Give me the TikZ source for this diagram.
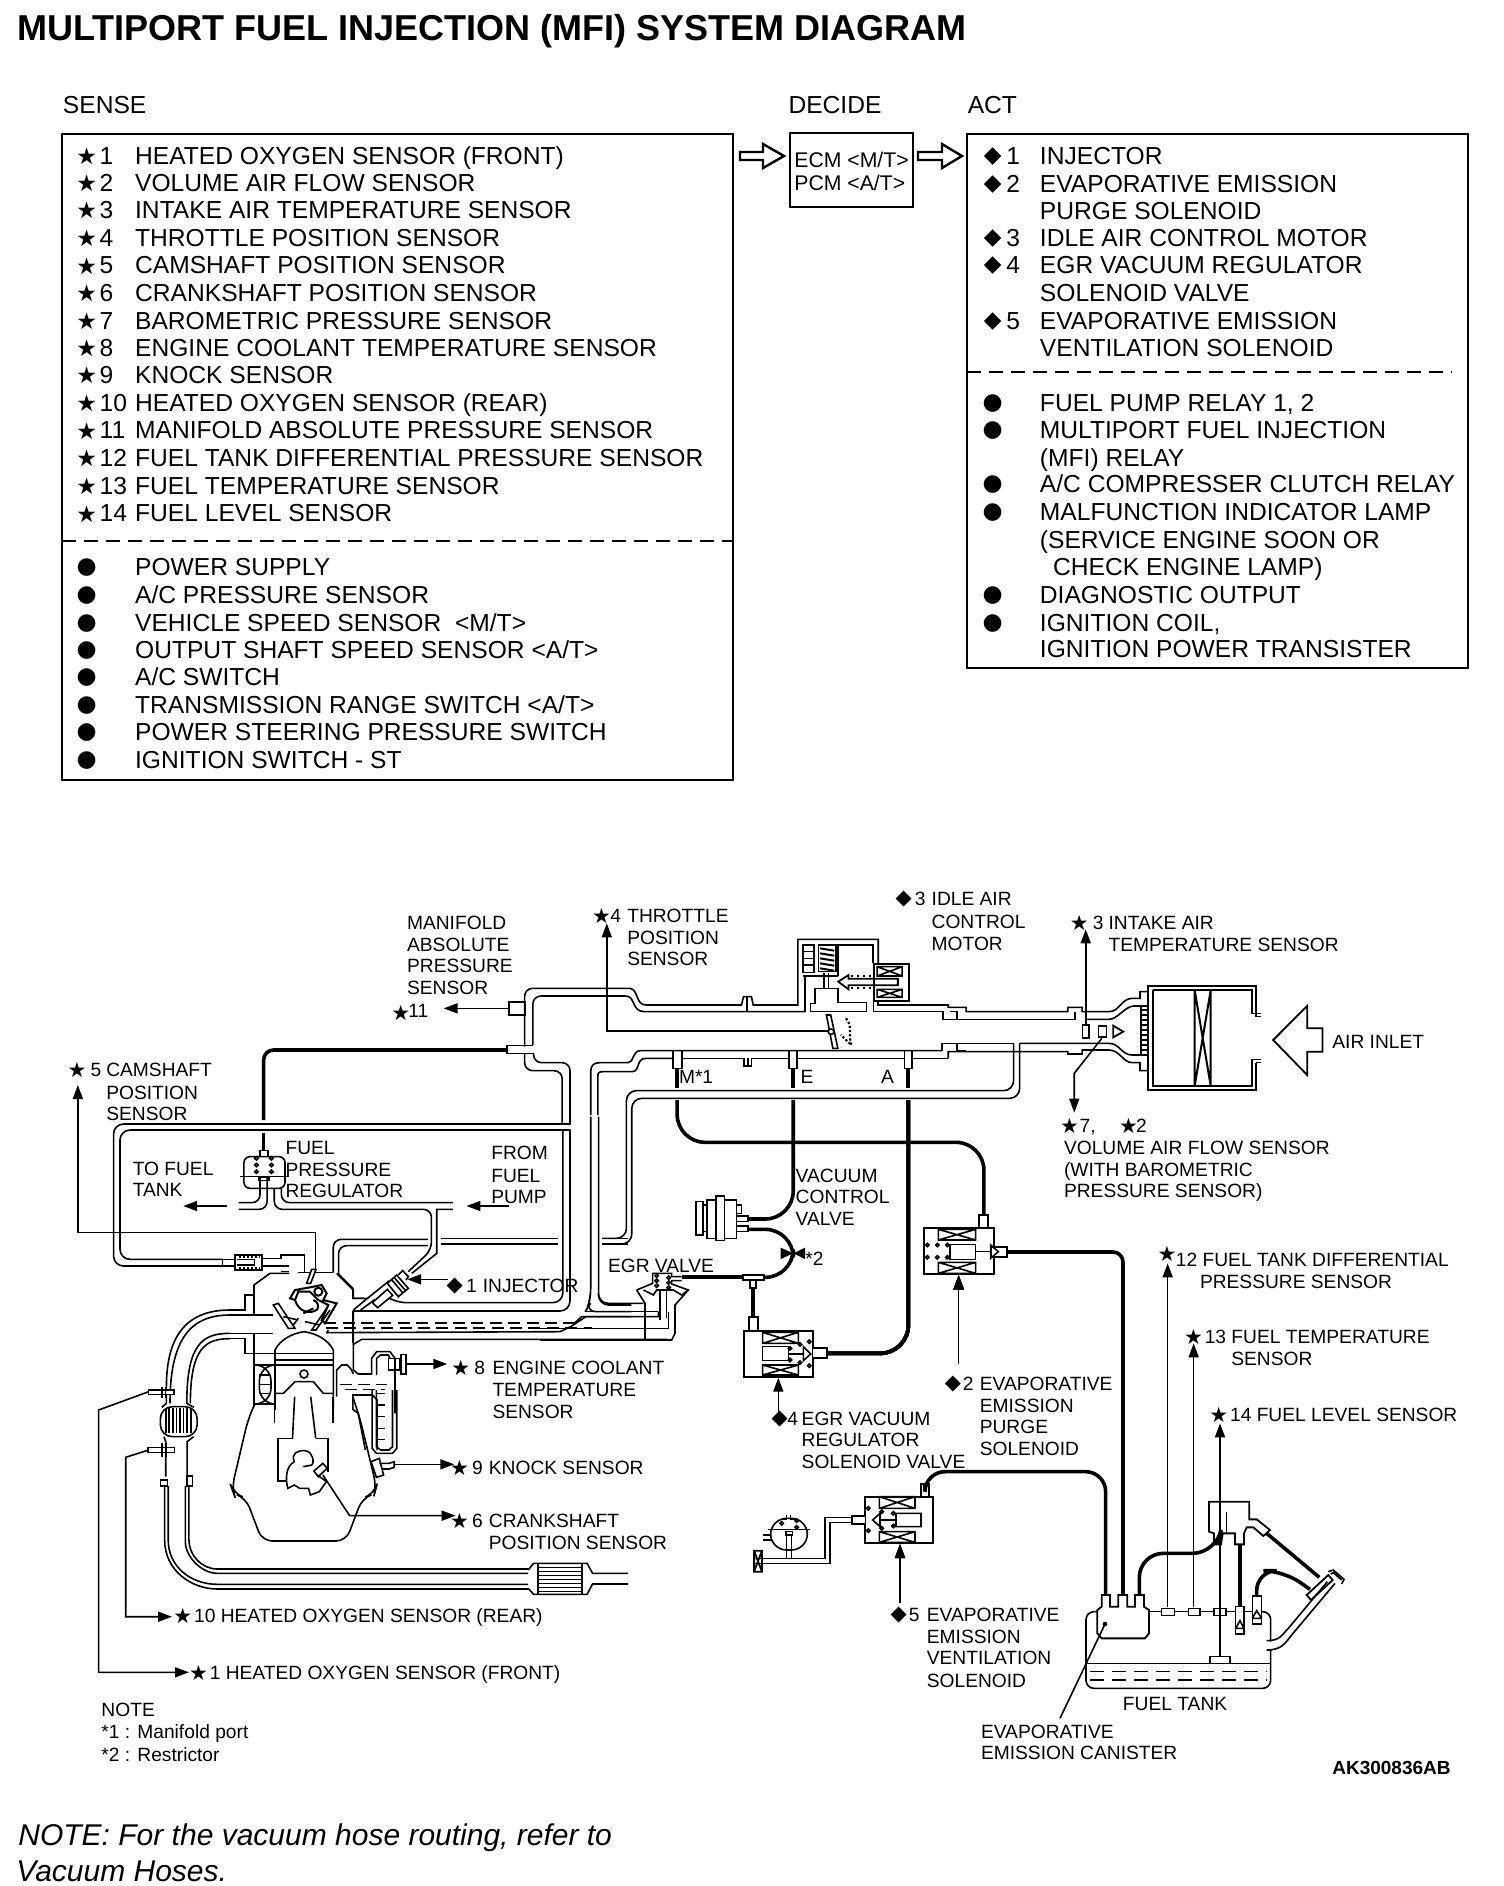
\documentclass[tikz,border=0pt]{standalone}
\usepackage{fontspec}
\setmainfont{Liberation Sans}
\newfontfamily\djv{DejaVu Sans}
\usetikzlibrary{arrows.meta}
\newcount\lbc
\tikzset{
 lb/.style={anchor=base west,inner sep=0pt,font=\fontsize{9.6}{11}\selectfont},
 big/.style={anchor=base west,inner sep=0pt,font=\fontsize{12.3}{14}\selectfont},
 sym/.style={anchor=center,inner sep=0pt,font=\djv\fontsize{10.5}{12}\selectfont},
 bigsym/.style={anchor=center,inner sep=0pt,font=\djv\fontsize{11.5}{13}\selectfont},
 thinl/.style={line width=.8pt,line join=miter},
 vac/.style={line width=1.8pt},
 boxl/.style={line width=1.2pt},
 sig/.style={line width=.8pt,-{Triangle[length=7pt,width=5pt]}},
 zA/.style={shift={(380,880)},xscale=.35714,yscale=.33333},
 zB/.style={shift={(900,880)},xscale=.35714,yscale=.33333},
 zC/.style={shift={(60,1050)},xscale=.35714,yscale=.33333},
 zD/.style={shift={(80,1400)},xscale=.35714,yscale=.33333},
 zE/.style={shift={(720,1200)},scale=.33333},
 zF/.style={shift={(1040,1450)},scale=.33333},
 zH/.style={shift={(560,1240)},scale=.33333},
 zI/.style={shift={(230,1250)},scale=.33333},
}
\newcommand\nx{\global\advance\lbc by 1 }
% diagram labels, given in the 1250-wide coordinates (x, line centre)
\newcommand\lab[3]{\nx\node[lb] (L\the\lbc) at ({#1*1.2032},{(#2+5.6)*1.2032}) {#3};}
\newcommand\stm[2]{\nx\node[sym] (L\the\lbc) at ({#1*1.2032},{#2*1.2032}) {★};}
\newcommand\dmd[2]{\nx\node[sym] (L\the\lbc) at ({#1*1.2032},{#2*1.2032}) {◆};}
\newcommand\Tx[3]{\nx\node[big] (L\the\lbc) at ({#1*1.2032},{(#2+6.6)*1.2032}) {#3};}
\newcommand\Sr[3]{\nx\node[bigsym] (L\the\lbc) at ({72*1.2032},{#1*1.2032}) {★};\Tx{82.5}{#1}{#2}\Tx{112}{#1}{#3}}
\newcommand\Sb[2]{\nx\node[bigsym] (L\the\lbc) at ({72*1.2032},{#1*1.2032}) {●};\Tx{112}{#1}{#2}}
\newcommand\Ar[3]{\nx\node[bigsym] (L\the\lbc) at ({825*1.2032},{#1*1.2032}) {◆};\Tx{836}{#1}{#2}\Tx{864}{#1}{#3}}
\newcommand\Ab[2]{\nx\node[bigsym] (L\the\lbc) at ({825*1.2032},{#1*1.2032}) {●};\Tx{864}{#1}{#2}}
\newcommand\xbox[4]{\draw (#1,#2) rectangle (#3,#4) (#1,#2)--(#3,#4) (#1,#4)--(#3,#2);}
\newcommand\cir[2]{\draw (#1,#2) circle[radius=5];}
\begin{document}
\begin{tikzpicture}[x=.5pt,y=-.5pt]
\useasboundingbox (0,0) rectangle (1504,1886);
\fill[white] (0,0) rectangle (1504,1886);
% ---------- header
\node[anchor=base west,inner sep=0pt,font=\bfseries\fontsize{18}{20}\selectfont] (title) at (17,40) {MULTIPORT FUEL INJECTION (MFI) SYSTEM DIAGRAM};
\Tx{52}{88}{SENSE}\Tx{655}{88}{DECIDE}\Tx{804}{88}{ACT}
\draw[boxl] (62,134) rectangle (733,780);
\draw[boxl,dash pattern=on 7pt off 4pt] (62,541) -- (733,541);
\draw[boxl] (790,133) rectangle (913,207);
\draw[boxl] (967,134) rectangle (1468,668);
\draw[boxl,dash pattern=on 7pt off 4pt] (967,372) -- (1452,372);
\node[anchor=base west,inner sep=0pt,font=\fontsize{10.6}{12}\selectfont] (ecm) at (794,167) {ECM <M/T>};
\node[anchor=base west,inner sep=0pt,font=\fontsize{10.6}{12}\selectfont] (pcm) at (794,190) {PCM <A/T>};
\draw[boxl] (740,152)--(763,152)--(763,144)--(784,156)--(763,168)--(763,160)--(740,160)--cycle;
\draw[boxl] (918,152)--(942,152)--(942,144)--(962,156)--(942,168)--(942,160)--(918,160)--cycle;
\Sr{130}{1}{HEATED OXYGEN SENSOR (FRONT)}
\Sr{152.5}{2}{VOLUME AIR FLOW SENSOR}
\Sr{175}{3}{INTAKE AIR TEMPERATURE SENSOR}
\Sr{198}{4}{THROTTLE POSITION SENSOR}
\Sr{221}{5}{CAMSHAFT POSITION SENSOR}
\Sr{244}{6}{CRANKSHAFT POSITION SENSOR}
\Sr{267}{7}{BAROMETRIC PRESSURE SENSOR}
\Sr{289.5}{8}{ENGINE COOLANT TEMPERATURE SENSOR}
\Sr{312}{9}{KNOCK SENSOR}
\Sr{335}{10}{HEATED OXYGEN SENSOR (REAR)}
\Sr{358}{11}{MANIFOLD ABSOLUTE PRESSURE SENSOR}
\Sr{381}{12}{FUEL TANK DIFFERENTIAL PRESSURE SENSOR}
\Sr{404}{13}{FUEL TEMPERATURE SENSOR}
\Sr{427}{14}{FUEL LEVEL SENSOR}
\Sb{472}{POWER SUPPLY}
\Sb{495}{A/C PRESSURE SENSOR}
\Sb{518}{VEHICLE SPEED SENSOR\ \ <M/T>}
\Sb{541}{OUTPUT SHAFT SPEED SENSOR <A/T>}
\Sb{563}{A/C SWITCH}
\Sb{586}{TRANSMISSION RANGE SWITCH <A/T>}
\Sb{609}{POWER STEERING PRESSURE SWITCH}
\Sb{632}{IGNITION SWITCH - ST}
\Ar{130}{1}{INJECTOR}
\Ar{153}{2}{EVAPORATIVE EMISSION}
\Tx{864}{175.5}{PURGE SOLENOID}
\Ar{198}{3}{IDLE AIR CONTROL MOTOR}
\Ar{221}{4}{EGR VACUUM REGULATOR}
\Tx{864}{244}{SOLENOID VALVE}
\Ar{267}{5}{EVAPORATIVE EMISSION}
\Tx{864}{290}{VENTILATION SOLENOID}
\Ab{335}{FUEL PUMP RELAY 1, 2}
\Ab{358}{MULTIPORT FUEL INJECTION}
\Tx{864}{381}{(MFI) RELAY}
\Ab{403}{A/C COMPRESSER CLUTCH RELAY}
\Ab{426}{MALFUNCTION INDICATOR LAMP}
\Tx{864}{449}{(SERVICE ENGINE SOON OR}
\Tx{875}{472}{CHECK ENGINE LAMP)}
\Ab{495}{DIAGNOSTIC OUTPUT}
\Ab{518}{IGNITION COIL,}
\Tx{864}{540}{IGNITION POWER TRANSISTER}
% ---------- diagram labels
\lab{338}{767}{MANIFOLD}\lab{338}{785}{ABSOLUTE}\lab{338}{803}{PRESSURE}\lab{338}{821}{SENSOR}
\stm{333}{842}\lab{339}{840}{11}
\stm{500}{761}\lab{507}{761}{4}\lab{521}{761}{THROTTLE}\lab{521}{779}{POSITION}\lab{521}{797}{SENSOR}
\dmd{751}{747}\lab{760}{747}{3}\lab{774}{747}{IDLE AIR}\lab{774}{766}{CONTROL}\lab{774}{784}{MOTOR}
\stm{897}{767}\lab{908}{767}{3}\lab{921}{767}{INTAKE AIR}\lab{921}{785}{TEMPERATURE SENSOR}
\lab{1107}{866}{AIR INLET}
\stm{889}{936}\lab{897}{936}{7,}\stm{938}{936}\lab{944}{936}{2}
\lab{884}{954}{VOLUME AIR FLOW SENSOR}\lab{884}{972}{(WITH BAROMETRIC}\lab{884}{990}{PRESSURE SENSOR)}
\stm{64}{889}\lab{75}{889}{5}\lab{88}{889}{CAMSHAFT}\lab{88}{908}{POSITION}\lab{88}{926}{SENSOR}
\lab{237}{954}{FUEL}\lab{237}{972}{PRESSURE}\lab{237}{990}{REGULATOR}
\lab{110}{971}{TO FUEL}\lab{110}{989}{TANK}
\lab{408}{958}{FROM}\lab{408}{977}{FUEL}\lab{408}{995}{PUMP}
\dmd{378}{1069}\lab{387}{1069}{1}\lab{401}{1069}{INJECTOR}
\lab{505}{1052}{EGR VALVE}
\lab{661}{977}{VACUUM}\lab{661}{995}{CONTROL}\lab{661}{1013}{VALVE}
\lab{669}{1046}{*2}
\lab{564}{895}{M*1}\lab{665}{895}{E}\lab{732}{895}{A}
\stm{970}{1042}\lab{977}{1047}{12 FUEL TANK DIFFERENTIAL}\lab{997}{1065}{PRESSURE SENSOR}
\stm{992}{1111}\lab{1001}{1111}{13 FUEL TEMPERATURE}\lab{1023}{1129}{SENSOR}
\stm{1013}{1176}\lab{1022}{1176}{14 FUEL LEVEL SENSOR}
\stm{383}{1137}\lab{394}{1137}{8}\lab{409}{1137}{ENGINE COOLANT}\lab{409}{1155}{TEMPERATURE}\lab{409}{1173}{SENSOR}
\dmd{792}{1150}\lab{800}{1150}{2}\lab{814}{1150}{EVAPORATIVE}\lab{814}{1168}{EMISSION}\lab{814}{1186}{PURGE}\lab{814}{1204}{SOLENOID}
\dmd{648}{1179}\lab{654}{1179}{4}\lab{666}{1179}{EGR VACUUM}\lab{666}{1197}{REGULATOR}\lab{666}{1215}{SOLENOID VALVE}
\stm{382}{1220}\lab{392}{1220}{9}\lab{406}{1220}{KNOCK SENSOR}
\stm{382}{1264}\lab{392}{1264}{6}\lab{406}{1264}{CRANKSHAFT}\lab{406}{1282}{POSITION SENSOR}
\dmd{747}{1342}\lab{755}{1342}{5}\lab{770}{1342}{EVAPORATIVE}\lab{770}{1360}{EMISSION}\lab{770}{1378}{VENTILATION}\lab{770}{1397}{SOLENOID}
\stm{152}{1343}\lab{161}{1343}{10 HEATED OXYGEN SENSOR (REAR)}
\stm{165}{1390}\lab{174}{1390}{1 HEATED OXYGEN SENSOR (FRONT)}
\lab{84}{1421}{NOTE}\lab{84}{1439}{*1 : Manifold port}\lab{84}{1458}{*2 : Restrictor}
\lab{933}{1416}{FUEL TANK}\lab{815}{1439}{EVAPORATIVE}\lab{815}{1457}{EMISSION CANISTER}
\nx\node[anchor=base west,inner sep=0pt,font=\bfseries\fontsize{9.5}{11}\selectfont] (L\the\lbc) at ({1107*1.2032},{1475*1.2032}) {AK300836AB};
\node[anchor=base west,inner sep=0pt,font=\itshape\fontsize{15}{18}\selectfont] (n1) at (18,1845) {NOTE: For the vacuum hose routing, refer to};
\node[anchor=base west,inner sep=0pt,font=\itshape\fontsize{15}{18}\selectfont] (n2) at (16,1881) {Vacuum Hoses.};

% ---------- throttle / intake (frame A)
\begin{scope}[zA,thinl]
 \draw[rounded corners=4pt] (405,500)--(405,325)--(700,325);
 \draw (700,325)..controls(725,330)and(715,375)..(745,375)--(1012,375)--(1018,350)--(1040,350)--(1045,375)--(1170,375)--(1170,178)--(1395,178)--(1395,250);
 \draw (1028,350)--(1028,395);
 \draw[rounded corners=4pt] (428,495)--(428,348)--(690,348);
 \draw (690,348)..controls(715,350)and(705,395)..(740,395)--(1190,395)--(1190,288)--(1283,288);
 \draw (1283,288)--(1283,195)--(1380,195)--(1380,250);
 \draw (1190,288)--(1185,288);
 \draw (1185,195) rectangle (1215,278);
 \foreach \y in {215,235,255} \draw (1185,\y)--(1215,\y);
 \draw (1228,195) rectangle (1277,275);
 \foreach \y in {205,220,235,250,265} \draw[line width=1pt] (1232,\y)--(1272,\y+7);
 \draw[line width=.9pt] (1243,278)--(1243,325) (1256,278)--(1256,325);
 \draw (1205,395)--(1205,370)--(1218,370)--(1218,325)--(1283,325)--(1283,368)--(1362,368)--(1362,395)--cycle;
 \draw[line width=.9pt] (1283,305)--(1312,285)--(1312,296)--(1450,296)--(1450,316)--(1312,316)--(1312,328)--cycle;
 \draw[line width=.9pt,dotted] (1320,288)--(1380,288) (1320,325)--(1380,325);
 \draw[line width=1pt] (1382,252) rectangle (1480,362);
 \xbox{1392}{260}{1462}{288}
 \xbox{1392}{328}{1462}{352}
 \draw (1395,362)--(1395,375)--(1500,375);
 \draw (1382,362)--(1382,395)--(1500,395);
 % throttle plate
 \draw (1250,405)--(1262,405)--(1282,505)--(1268,505)--cycle;
 \draw[fill=white] (1263,455) circle[radius=8];
 \draw[line width=1.1pt,densely dotted] (1305,415)..controls(1325,440)and(1310,470)..(1320,495)--(1290,465);
 \draw[sig] (1255,453)--(635,453)--(635,130);
 % MAP
 \draw[line width=1pt] (360,365) rectangle (405,405);
 \draw[sig] (360,385)--(178,385);
 % port
 \draw (428,497)--(355,497)--(355,520)--(430,520);
 \draw[vac] (0,510)--(355,510);
 \draw[rounded corners=4pt] (405,520)--(405,572)--(510,572)--(510,732);
 \draw[rounded corners=4pt] (430,520)--(430,548)--(532,548)--(532,732);
 % lower pipe of manifold
 \draw (590,705)--(590,575)..controls(590,555)and(600,548)..(615,548)--(695,548)..controls(712,548)and(705,512)..(730,512)--(1574,512);
 \draw (610,705)--(610,590)..controls(610,578)and(612,575)..(625,575)--(705,575)..controls(730,575)and(715,535)..(745,535)--(820,535);
 \draw (820,512)--(820,565)--(845,565)--(845,512);
 \draw (845,535)--(1020,535)--(1020,558)--(1040,558)--(1040,535)--(1145,535);
 \draw (1030,558)--(1030,535);
 \draw (1145,512)--(1145,565)--(1167,565)--(1167,512);
 \draw (1167,535)--(1468,535);
 \draw (1468,512)--(1468,565)--(1490,565)--(1490,512);
 \draw (1490,535)--(1591,535);
 \draw[vac] (832,565)--(832,625) (1157,565)--(1157,625) (1478,565)--(1478,625);
 \draw[vac,rounded corners=14pt] (832,660)--(832,787)--(1691,787)--(1691,1005);
 \draw[vac,rounded corners=14pt] (1157,660)--(1157,1017)--(1030,1017);
 \draw[vac,rounded corners=14pt] (1030,1048)--(1157,1048)--(1157,1192)--(1075,1192);
 \draw[rounded corners=5pt] (1774,490)--(1774,632)--(690,632)--(690,1075)--(622,1075);
 \draw[rounded corners=5pt] (1791,490)--(1791,655)--(705,655)--(705,1092)--(622,1092);
 % VCV
 \draw (885,965) rectangle (905,1065) (915,960) rectangle (940,1075) (940,948) rectangle (965,1082) (965,960) rectangle (998,1075) (998,975) rectangle (1012,1000) (905,975)--(915,975) (905,1055)--(915,1055);
 \draw (998,1008) rectangle (1030,1025) (998,1038) rectangle (1030,1055);
 \fill (1122,1103)--(1157,1120)--(1122,1137)--cycle (1190,1103)--(1157,1120)--(1190,1137)--cycle;
\end{scope}
% ---------- air cleaner (frame B)
\begin{scope}[zB,thinl]
 \draw (20,375)--(135,375)--(135,382)--(185,382)--(185,395)--(470,395)--(470,382)--(510,382)--(510,395)--(585,395)..controls(615,395)and(620,355)..(650,355)--(672,355)--(672,335)--(695,335);
 \draw (20,395)--(120,395)--(120,418)--(490,418)--(490,395);
 \draw (160,418)--(160,395)--(140,395);
 \draw (520,418)--(585,418)..controls(610,418)and(630,378)..(655,378)--(695,378);
 \draw (118,512)--(118,490)--(318,490);
 \draw (335,490)--(585,490)..controls(615,490)and(620,525)..(650,525)--(695,525);
 \draw (135,535)--(135,515)--(180,515)--(470,515)--(470,522)--(510,522)--(510,510)--(585,510)..controls(615,510)and(625,548)..(650,548)--(672,548)--(672,572)--(695,572);
 \draw (160,490)--(160,512)--(185,512);
 \draw[line width=1pt] (998,410)--(998,318)--(695,318)--(695,630)--(998,630)--(998,548);
 \draw (708,330)--(985,330)--(985,400)--(1010,400) (998,410)--(1010,410);
 \draw (708,330)--(708,618)--(985,618)--(985,538)--(1010,538) (998,548)--(1010,548);
 \draw[line width=1pt] (825,330)--(825,618) (870,330)--(870,618) (825,330)--(870,618) (870,330)--(825,618);
 \foreach \y in {390,405,420,435,450,465,480,495,510} \draw (675,\y)--(695,\y);
 \draw (675,378)--(675,525);
 \draw[line width=.9pt] (1045,480)--(1140,378)--(1140,445)--(1183,445)--(1183,515)--(1140,515)--(1140,585)--cycle;
 \draw[line width=.9pt] (511,435) rectangle (530,475) (556,437) rectangle (578,472);
 \draw[line width=.9pt] (597,437)--(625,455)--(597,472)--cycle;
 \draw[sig] (520,435)--(520,148);
 \draw[sig] (565,475)--(488,580)--(488,698);
\end{scope}
% ---------- fuel / head (frame C)
\begin{scope}[zC,thinl]
 \draw[vac,rounded corners=5pt] (570,210)--(570,0)--(1255,0);
 \draw[vac] (570,250)--(570,300);
 \draw[rounded corners=5pt] (1430,222)--(150,222)--(150,648)--(455,648);
 \draw[rounded corners=5pt] (1430,240)--(168,240)--(168,628)--(455,628);
 \draw[rounded corners=5pt] (1408,240)--(1408,758)--(940,758)--(922,745);
 \draw[rounded corners=5pt] (1428,240)--(1428,783)--(820,783);
 % cam sensor body
 \draw (455,628) rectangle (490,648);
 \draw (490,615) rectangle (565,660) (495,628)--(545,628)--(545,645)--(495,645);
 \draw[densely dotted,line width=1pt] (500,620)--(560,620) (500,654)--(560,654);
 \draw (565,625)--(618,625)--(618,615)--(685,615)--(685,665);
 \draw (565,648)--(640,648);
 \draw (618,665)--(640,665);
 \draw[rounded corners=4pt] (765,668)--(765,568)--(1030,568);
 \draw[rounded corners=4pt] (780,672)--(780,587)--(1030,587);
 \draw (1068,565)--(1395,565) (1068,582)--(1395,582);
 \draw (1518,565)--(1590,565) (1518,582)--(1590,582);
 \draw (780,672)--(820,715)--(820,745)--(860,745);
 \draw (665,668)--(765,668);
 % regulator
 \draw[fill=white,rounded corners=3pt] (515,320) rectangle (630,415);
 \draw (505,380)--(640,380);
 \draw (560,320)--(560,302)--(582,302)--(582,320);
 \foreach \a/\b in {550/325,550/345,550/365,592/325,592/345,592/365} \draw (\a,\b) circle[radius=5];
 \draw[rounded corners=4pt] (560,382)--(560,458)--(500,458);
 \draw[rounded corners=4pt] (580,382)--(580,478)--(500,478);
 \draw (556,382) rectangle (585,392);
 \draw[rounded corners=4pt] (600,415)--(600,478)--(1040,478)--(1040,600)--(975,665);
 \draw[rounded corners=4pt] (620,415)--(620,458)--(1100,458);
 \draw (1100,478)--(1055,478)--(1055,610)--(985,670);
 \draw[sig] (468,468)--(345,468);
 \draw[sig] (1258,468)--(1138,468);
 \draw[sig] (715,660)--(715,547)--(50,547)--(50,105);
 \draw[sig] (1085,688)--(972,688);
 % manifold walls right
 \draw[rounded corners=5pt] (1486,200)--(1486,745)--(1472,785)--(1600,785);
 \draw[rounded corners=5pt] (1508,200)--(1508,765)--(1600,765);
 \draw (745,848)--(1400,845)--(1430,830)--(1472,800)--(1600,800);
 \draw[line width=1pt,dash pattern=on 6pt off 3.2pt] (740,818)--(1445,818) (745,833)--(1490,833);
 \draw (820,884)--(845,868)--(1700,868);
 \draw (820,880)--(820,783);
 % exhaust manifold
 \draw (476,780)..controls(360,780)and(298,850)..(298,1010)--(298,1060)--(285,1072);
 \draw (476,795)..controls(370,795)and(308,860)..(308,1060);
 \draw (476,850)..controls(400,850)and(355,880)..(355,1060)--(375,1072);
 \draw (476,866)..controls(410,866)and(365,890)..(365,1060);
 \draw[fill=white] (248,1020) rectangle (320,1033);
 \draw (285,1010)--(285,1045) (295,1010)--(295,1045);
 \draw (888,1200)--(888,1050)--(875,1035)--(820,1035)--(820,1078)--(835,1090)--(855,1200);
\end{scope}
\draw[sig] (148.6,1391.7)--(98.6,1410)--(98.6,1672.3)--(189,1672.3);
\draw[sig] (148.6,1450)--(125.7,1457.3)--(125.7,1616.7)--(172,1616.7);
% ---------- head detail (frame I)
\begin{scope}[zI,thinl]
 \draw (0,180)--(45,180)--(45,135)--(72,135)--(72,105)--(120,70)--(178,70);
 \draw (0,195)--(130,195);
 \draw (0,250)--(130,250);
 \draw (0,265)--(45,265)--(45,310)--(310,310);
 \draw (72,135)--(72,195) (72,250)--(72,470);
 \draw (320,70)--(370,120)--(370,145)--(402,145);
 \draw (370,180)--(370,360)--(385,372)--(425,372)--(425,325)--(440,305)--(480,305)--(495,325)--(495,490);
 \draw (440,375)--(440,325)--(452,315)--(475,315)--(480,325);
 \draw (370,180)--(400,155)--(478,92);
 \draw (392,180)--(435,148);
 \draw[fill=white] (427,158)--(472,118)--(488,136)--(443,173)--cycle;
 \draw[fill=white] (472,100)--(500,75)--(535,115)--(505,140)--cycle;
 \draw (484,88)--(518,128) (492,82)--(527,122);
 \draw (505,75)--(518,62)--(535,80)--(528,90);
 % rocker / cam
 \draw[line width=1pt] (180,145)--(195,120)--(240,112)--(275,105)--(290,130)--(280,150)--(320,160)--(285,220)--(275,210)--(295,165)--(265,150)--(240,125)--(205,125)--(195,150)--cycle;
 \draw[line width=1pt] (265,125) circle[radius=12];
 \draw[line width=1pt] (195,150)..controls(205,185)and(240,195)..(262,178)..controls(268,165)and(262,155)..(250,150);
 \draw[line width=1pt] (220,190)--(250,175);
 % valves and sensor bar
 \draw[fill=white] (245,58)--(258,58)--(242,100)--(230,100)--cycle;
 \draw (130,165)--(175,235)--(195,235)--(145,160)--cycle;
 \draw (300,180)--(258,240)--(245,240)--(290,175);
 \draw (160,200)--(205,210) (205,205)--(190,225) (225,215)--(270,225);
 % cylinder
 \draw (135,480)--(135,300)..controls(150,270)and(185,250)..(222,245)..controls(260,250)and(295,270)..(310,300)--(310,480);
 \draw (135,330)--(310,330) (135,345)--(310,345);
 \draw (222,372) circle[radius=12];
 \draw (135,430)--(160,430)--(195,395)--(250,395)--(280,430)--(310,430);
 \draw[rounded corners=8pt] (88,345) rectangle (123,462);
 \foreach \y in {375,403,430} \draw (88,\y)--(120,\y);
 \draw (320,440)--(320,360)--(335,345)--(352,345)--(365,360)--(370,372);
 \draw[dash pattern=on 6pt off 3pt] (330,403)--(470,403) (345,418)--(465,418);
 \draw (290,250)--(295,240);
 % ECT sensor
 \draw (475,325) rectangle (510,360);
 \draw (513,313) rectangle (528,372);
 \draw[sig] (528,342)--(652,342);
\end{scope}
% ---------- lower engine (frame D)
\begin{scope}[zD,thinl]
 \draw[rounded corners=5pt] (764,-9)--(785,60)--(830,260)--(825,280)--(790,295)--(745,423)--(510,423)--(465,295)--(430,280)--(425,265)--(470,60)--(490,10);
 \draw (545,-10)--(545,70) (708,-10)--(708,70);
 \draw (818,-30)--(818,145)--(830,160)--(875,160)--(887,145)--(887,-30);
 \draw (830,-30)--(830,140)--(842,150)--(865,150)--(875,140)--(875,-30);
 \foreach \y in {-20,15,50,85,118} \draw (830,\y)--(855,\y);
 \draw (555,115)--(595,115) (660,115)--(695,115)--(695,215) (555,115)--(555,243)--(580,243);
 \draw (601,-10)--(595,115) (646,-10)--(660,115);
 \draw (600,185)..controls(575,200)and(575,240)..(582,265)--(600,255)--(615,265)--(640,265)--(645,285)--(670,275)--(690,245)--(665,225);
 \draw (600,185)..controls(590,160)and(610,150)..(630,152)..controls(655,155)and(655,190)..(650,195);
 \draw (650,195)--(625,200) (655,213)--(680,190)--(692,205)--(667,230)--cycle;
 \draw[sig] (680,225)--(755,347)--(1052,347);
 \draw (815,185)--(838,175)--(850,225)--(830,232)--cycle;
 \draw (838,190)--(865,190)--(880,185)--(880,202)--(865,207)--(845,207);
 \draw[sig] (880,193)--(1048,193);
 % silencer
 \draw[rounded corners=6pt] (225,20) rectangle (328,110);
 \foreach \x in {240,250,260,270,280,290,300,310} \draw (\x,25)--(\x,100);
 \draw (235,110)--(240,125)--(240,230) (318,110)--(300,125)--(300,230);
 \draw (190,142) rectangle (265,158);
 \draw (230,130)--(230,170) (240,130)--(240,170);
 \draw (225,240) rectangle (245,258) (300,228) rectangle (315,258);
 \draw (237,258)--(237,420)..controls(237,510)and(310,567)..(385,567)--(1255,567);
 \draw (247,258)--(247,420)..controls(247,500)and(310,553)..(385,553)--(1255,553);
 \draw (295,258)--(295,425)..controls(295,470)and(340,520)..(385,520)--(1255,520);
 \draw (305,258)--(305,420)..controls(305,465)and(340,507)..(385,507)--(1255,507);
 \draw (1255,510)--(1270,490)--(1420,490)--(1435,520)--(1535,520);
 \draw (1255,565)--(1270,583)--(1420,583)--(1435,552)--(1535,552);
 \draw (1282,490) rectangle (1405,583);
 \foreach \y in {502,514,526,538,550,562,574} \draw (1282,\y)--(1405,\y);
\end{scope}
% ---------- EGR valve (frame H)
\begin{scope}[zH,thinl]
 \draw (230,150)--(278,130)--(278,100)--(335,100)--(335,110)--(365,110);
 \draw (365,122)--(335,122)--(335,132)--(385,150)--(345,195)--(345,280)--(335,300)--(-60,300);
 \draw (230,150)--(255,190);
 \draw (250,150)--(280,165)--(290,150)--(340,150)--(365,165)--(385,150);
 \draw (300,150)--(300,240) (320,150)--(320,235);
 \draw[line width=1.1pt] (255,190)--(255,297);
 \foreach \a/\b in {290/107,290/122,290/137,326/113,326/128,326/143} \draw (\a,\b) circle[radius=5];
 \draw (75,215)--(295,215);
 \draw (92,190)--(75,215);
 \draw[rounded corners=5pt] (115,165)--(115,190)--(250,190);
 \draw (45,248)--(65,230)--(295,230)--(295,215);
 \draw (-60,265)--(325,265)--(325,215);
\end{scope}
\draw[vac] (682,1277)--(743,1277);
% ---------- solenoids (frame E)
\begin{scope}[zE,thinl]
 \draw[line width=.9pt] (68,225) rectangle (133,240);
 \draw[line width=.9pt] (90,240)--(90,265)--(108,265)--(108,240);
 \draw[vac] (99,265)--(99,352);
 % sol 4
 \draw[line width=.9pt] (88,392)--(88,352)--(113,352)--(113,392);
 \draw[line width=.9pt] (73,392) rectangle (278,530);
 \xbox{128}{397}{235}{430}
 \xbox{128}{495}{235}{525}
 \draw (128,440) rectangle (205,482);
 \draw (205,462)--(250,462) (250,440)--(272,462)--(250,482)--cycle;
 \draw[line width=.9pt,fill=white] (278,445)--(320,445)--(320,475)--(278,475);
 \foreach \a/\b in {240/433,268/425,210/445,210/480,240/488,268/497} \cir\a\b
 \draw[vac,rounded corners=14pt] (320,460)--(565,460)--(565,-300);
 \draw[sig] (175,635)--(175,533);
 % sol 2
 \draw[line width=.9pt] (778,85)--(778,45)--(805,45)--(805,85);
 \draw[line width=.9pt] (613,85) rectangle (822,223);
 \xbox{655}{88}{767}{120}
 \xbox{655}{187}{767}{220}
 \draw (690,133) rectangle (767,178) (767,155)--(812,155);
 \draw[fill=white,line width=.9pt] (812,140) rectangle (860,170);
 \draw (812,135)--(835,155)--(812,175)--cycle;
 \foreach \a/\b in {622/135,622/172,652/135,652/172,682/135,682/172} \cir\a\b
 \draw[sig] (716,492)--(716,226);
 % sol 5
 \draw[line width=.9pt] (603,890)--(603,852)--(628,852)--(628,890);
 \draw[line width=.9pt] (435,890) rectangle (640,1030);
 \xbox{478}{890}{585}{925}
 \xbox{478}{995}{585}{1027}
 \draw (528,940) rectangle (603,980) (528,960)--(480,960) (480,940)--(458,960)--(480,980)--cycle;
 \foreach \a/\b in {445/925,445/992,485/935,485/985,520/940,520/978} \cir\a\b
 \draw[line width=.9pt,fill=white] (435,948)--(395,948)--(395,972)--(435,972);
 \draw[vac,rounded corners=10pt] (615,852)--(615,815)--(1157,815)--(1157,1190);
 \draw (395,953)--(315,953)--(315,1075)--(105,1075);
 \draw (395,968)--(330,968)--(330,1090)--(105,1090);
 \draw[line width=.9pt] (102,1052) rectangle (126,1115) (102,1052)--(126,1115) (102,1115)--(126,1052);
 \draw[rounded corners=8pt] (152,955) rectangle (262,1050);
 \draw (145,988)--(270,988);
 \draw (130,1005)--(152,1005) (130,1020)--(152,1020);
 \draw (200,945)--(200,958)--(188,958) (212,945)--(212,958)--(225,958);
 \draw (198,995) rectangle (218,1005);
 \draw (200,1005)--(200,1075) (215,1005)--(215,1075);
 \foreach \a/\b in {185/970,230/962,230/982} \cir\a\b
 \draw[sig] (540,1210)--(540,1032);
\end{scope}
\draw[vac,rounded corners=5pt] (1006,1252)--(1123,1252)--(1123,1595);
% ---------- tank (frame F)
\begin{scope}[zF,thinl]
 \draw[sig] (383,470)--(383,-560);
 \draw[sig] (461,470)--(461,-320);
 \draw[sig] (540,620)--(540,-80);
 \draw[rounded corners=4pt] (172,485)--(138,485)--(138,715)--(692,715)--(692,600);
 \draw[rounded corners=4pt] (692,575)--(692,485)--(665,485);
 \draw (327,485)--(365,485) (403,485)--(445,485) (480,485)--(522,485) (558,485)--(587,485) (612,485)--(637,485);
 \draw (365,475) rectangle (403,497) (445,475) rectangle (480,497) (522,475) rectangle (558,497);
 \draw (138,640)--(692,640);
 \draw[dash pattern=on 7pt off 4pt] (150,665)--(680,665) (150,690)--(680,690);
 \draw (510,640)--(510,620)--(570,620)--(570,640);
 \draw[line width=.9pt,fill=white] (185,470)--(185,435)--(210,435)--(210,470)--(235,470)--(235,435)--(262,435)--(262,470)--(285,470)--(285,435)--(312,435)--(312,470)--(327,480)--(327,550)--(315,565)--(185,565)--(172,550)--(172,480)--cycle;
 \draw[vac] (249,435)--(249,0);
 \draw[vac,rounded corners=12pt] (298,435)--(298,310)--(530,310)--(535,283);
 \fill (195,522) circle[radius=7];
 \draw (195,522)--(60,805);
 % vent box
 \draw[line width=.9pt] (507,155)--(628,155)--(628,208)--(650,208)--(690,240)--(670,258)--(640,232)--(620,232)--(612,250)--(612,283)--(585,283)--(585,250)--(548,250)--(543,283)--(522,283)--(522,250)--(507,245)--cycle;
 \draw (560,185)--(560,250);
 \draw[vac] (600,283)--(600,470);
 \draw[fill=white] (587,470) rectangle (612,552);
 \draw (587,535)--(600,512)--(612,535) (587,535)--(612,535);
 \draw[fill=white] (637,438) rectangle (665,522);
 \draw (637,505)--(650,482)--(665,505) (637,505)--(665,505);
 \draw[vac,rounded corners=10pt] (650,438)--(650,362)--(730,362)--(810,418);
 \draw[vac] (680,250)--(838,382);
 \draw[line width=.9pt] (800,435)--(865,375)--(878,390)--(813,450)--cycle;
 \draw (680,572)..controls(720,572)and(725,555)..(745,535)--(862,395);
 \draw (680,600)..controls(725,600)and(735,580)..(755,555)--(885,400);
 \draw (865,365)--(880,360)--(912,388)--(905,402) (872,372)--(880,368)--(905,390);
\end{scope}
\end{tikzpicture}
\end{document}
